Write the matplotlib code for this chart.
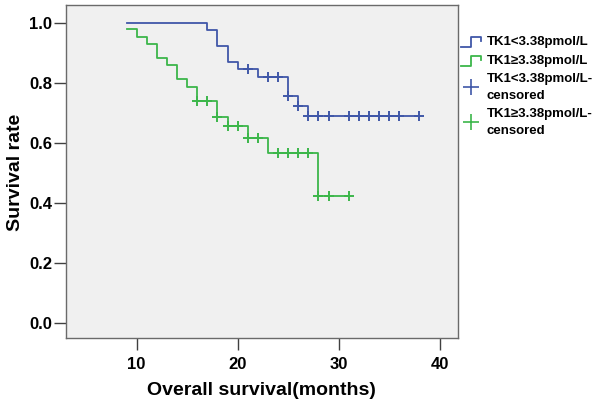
import numpy as np
import matplotlib
matplotlib.use("Agg")
from matplotlib import pyplot as plt
from matplotlib.lines import Line2D
from matplotlib.legend_handler import HandlerBase

plt.rcParams['font.family'] = ['Liberation Sans', 'DejaVu Sans']

# Kaplan-Meier steps
low_times = [9, 17, 18, 19, 20, 22, 25, 26, 27]
low_surv = [1.0, 0.976, 0.922, 0.870, 0.846, 0.818, 0.757, 0.723, 0.691]
low_end = 38
low_censored = [21, 23, 24, 25, 26, 27, 28, 29, 31, 32, 33, 34, 35, 36, 38]

high_times = [9, 10, 11, 12, 13, 14, 15, 16, 18, 19, 21, 23, 28]
high_surv = [0.978, 0.954, 0.930, 0.883, 0.859, 0.812, 0.787, 0.740,
             0.685, 0.656, 0.617, 0.566, 0.424]
high_end = 31
high_censored = [16, 17, 18, 19, 20, 21, 22, 24, 25, 26, 27, 28, 29, 31]

labels = ["TK1<3.38pmol/L", "TK1\u22653.38pmol/L",
          "TK1<3.38pmol/L-\ncensored", "TK1\u22653.38pmol/L-\ncensored"]

BLUE = "#4057a8"
GREEN = "#3cb64a"


def surv_at(t, times, surv):
    # value of the step function right after time t
    idx = np.searchsorted(times, t, side='right') - 1
    return surv[idx]


class StepHandler(HandlerBase):
    def create_artists(self, legend, orig_handle, xdescent, ydescent,
                       width, height, fontsize, trans):
        x0, x1 = -xdescent, -xdescent + width
        y0, y1 = -ydescent, -ydescent + height
        xm = x0 + width * 0.5
        xs = [x0, xm, xm, x1, x1]
        ys = [y0 - 2, y0 - 2, y1 - 1, y1 - 1, y1 - 4]
        line = Line2D(xs, ys, color=orig_handle.get_color(), lw=1.3)
        line.set_transform(trans)
        return [line]


fig = plt.figure(figsize=(6.0, 4.03), dpi=100)
ax = fig.add_axes([0.11, 0.1605, 0.653, 0.826])
ax.set_facecolor("#f0f0f0")

for times, surv, end, cens, col in [
        (low_times, low_surv, low_end, low_censored, BLUE),
        (high_times, high_surv, high_end, high_censored, GREEN)]:
    xs = list(times) + [end]
    ys = list(surv) + [surv[-1]]
    ax.step(xs, ys, where='post', color=col, lw=1.3)
    cy = [surv_at(t, times, surv) for t in cens]
    ax.plot(cens, cy, linestyle='none', marker='+', color=col,
            markersize=6.5, markeredgewidth=1.4)

ax.set_xlim(3, 41.8)
ax.set_ylim(-0.052, 1.058)
ax.set_xticks([10, 20, 30, 40])
ax.set_yticks([0.0, 0.2, 0.4, 0.6, 0.8, 1.0])
ax.set_yticklabels(["0.0", "0.2", "0.4", "0.6", "0.8", "1.0"])
ax.tick_params(axis='both', length=8.5, width=1, color="#404040",
               labelsize=12, pad=1.5)
ax.tick_params(axis='x', pad=5)
for lab in ax.get_xticklabels() + ax.get_yticklabels():
    lab.set_fontweight('bold')
for sp in ax.spines.values():
    sp.set_color("#6a6a6a")
    sp.set_linewidth(1)

ax.set_xlabel("Overall survival(months)", fontsize=14, fontweight='bold',
              labelpad=7)
ax.set_ylabel("Survival rate", fontsize=14, fontweight='bold', labelpad=4)

handles = [Line2D([], [], color=BLUE), Line2D([], [], color=GREEN),
           Line2D([], [], color=BLUE, linestyle='none', marker='+',
                  markersize=11, markeredgewidth=1.2),
           Line2D([], [], color=GREEN, linestyle='none', marker='+',
                  markersize=11, markeredgewidth=1.2)]
leg = fig.legend(handles, labels, loc='upper left',
                 bbox_to_anchor=(0.768, 0.912), frameon=False,
                 prop={'weight': 'bold', 'size': 9.5},
                 handler_map={handles[0]: StepHandler(),
                              handles[1]: StepHandler()},
                 handlelength=1.5, handletextpad=0.45, labelspacing=0.5,
                 borderaxespad=0, borderpad=0)
for t in leg.get_texts():
    t.set_linespacing(1.5)

fig.savefig("out.png", dpi=100)
